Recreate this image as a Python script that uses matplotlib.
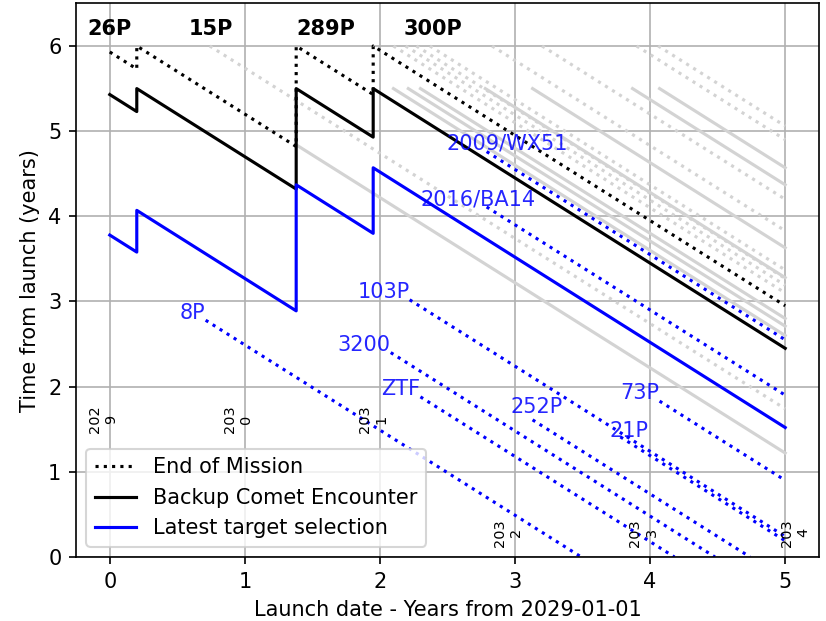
import matplotlib
matplotlib.use('Agg')
import matplotlib.pyplot as plt

# launch date (years from 2029-01-01) where the selection switches
switch_x = [0, 0.2, 0.2, 1.38, 1.38, 1.95, 1.95, 5]
eom_y = [5.93, 5.73, 6.0, 4.82, 6.0, 5.43, 6.0, 2.95]
backup_y = [5.43, 5.23, 5.5, 4.32, 5.5, 4.93, 5.5, 2.45]
latest_y = [3.78, 3.58, 4.07, 2.89, 4.37, 3.80, 4.57, 1.52]

backup_names = ['26P', '15P', '289P', '300P']
backup_label_x = [0.0, 0.75, 1.6, 2.39]

# other candidates: first possible launch and encounter date (years from 2029-01-01)
grey_solid_start = [1.38, 2.10, 2.21, 2.30, 2.78, 3.13, 3.87, 4.07]
grey_solid_enc = [6.22, 7.60, 7.71, 7.80, 8.28, 8.63, 9.37, 9.57]
grey_dot_start = [0.74, 2.10, 2.19, 2.27, 2.37, 2.83, 3.20, 3.90, 4.06]
grey_dot_enc = [6.74, 8.10, 8.19, 8.27, 8.37, 8.83, 9.20, 9.90, 10.06]

comets = ['8P', '103P', '3200', 'ZTF', '252P', '21P', '73P', '2009/WX51', '2016/BA14']
comet_start = [0.71, 2.22, 2.08, 2.30, 3.13, 3.78, 4.07, 2.79, 2.79]
comet_enc = [3.49, 5.24, 4.48, 4.18, 4.74, 5.19, 5.90, 7.55, 6.90]

years = [2029, 2030, 2031, 2032, 2033, 2034]

x_end = 5


def seg(x0, enc):
    # time from launch = encounter date - launch date
    x1 = min(x_end, enc)
    return [x0, x1], [enc - x0, enc - x1]


fig = plt.figure(figsize=(826 / 150, 621 / 150), dpi=150)
ax = fig.add_axes([0.092, 0.1031, 0.8995, 0.8914])

for x0, enc in zip(grey_solid_start, grey_solid_enc):
    xs, ys = seg(x0, enc)
    ax.plot(xs, ys, color='lightgray', lw=1.5)
for x0, enc in zip(grey_dot_start, grey_dot_enc):
    xs, ys = seg(x0, enc)
    ax.plot(xs, ys, ':', color='lightgray', lw=1.5)

label_shift = {'252P': (0.22, 0.08), '21P': (0.21, 0.0),
               '2009/WX51': (0.6, 0.02), '2016/BA14': (0.36, 0.02)}
for name, x0, enc in zip(comets, comet_start, comet_enc):
    xs, ys = seg(x0, enc)
    ax.plot(xs, ys, ':', color='blue', lw=1.5)
    dx, dy = label_shift.get(name, (0, 0.02))
    ax.text(x0 + dx, enc - x0 + dy, name, color='blue', alpha=0.85,
            ha='right', va='baseline', fontsize=10)

ax.plot(switch_x, eom_y, ':', color='black', lw=1.5, label='End of Mission')
ax.plot(switch_x, backup_y, color='black', lw=1.5, label='Backup Comet Encounter')
ax.plot(switch_x, latest_y, color='blue', lw=1.5, label='Latest target selection')

for name, lx in zip(backup_names, backup_label_x):
    ax.text(lx, 6.2, name, ha='center', va='center', fontweight='bold', fontsize=10)

for yr in years:
    i = yr - 2029
    s = str(yr)
    xt = i - 0.05 if i < 5 else i + 0.07
    yt = 1.62 if i < 3 else 0.285
    ax.text(xt, yt, s[:3] + '\n' + s[3:], rotation=90, ha='center', va='center',
            fontsize='x-small')

ax.set_xlim(-0.25, 5.25)
ax.set_ylim(0, 6.5)
ax.set_xticks(range(6))
ax.set_yticks(range(7))
ax.grid(True)
ax.set_xlabel('Launch date - Years from 2029-01-01')
ax.set_ylabel('Time from launch (years)')
ax.legend(loc='lower left')

fig.savefig('out.png', dpi=150)
